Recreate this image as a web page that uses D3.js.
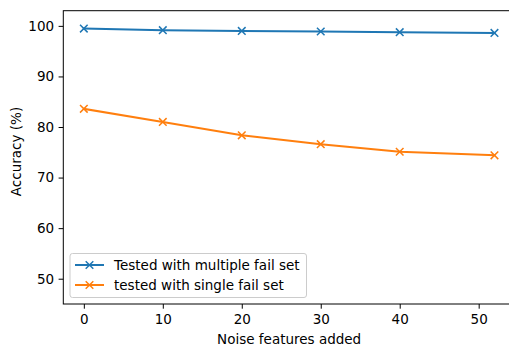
<!DOCTYPE html>
<html>
<head>
<meta charset="utf-8">
<script src="https://cdn.jsdelivr.net/npm/d3@7"></script>
<style>
  body { margin: 0; background: #fff; }
  svg text { font-family: "DejaVu Sans", sans-serif; fill: #000; }
</style>
</head>
<body>
<div id="chart"></div>
<script>
// data
const noiseFeatures = [0, 10, 20, 30, 40, 52];
const multipleFailSet = [99.47, 99.15, 99.0, 98.88, 98.75, 98.6];
const singleFailSet = [83.6, 81.0, 78.35, 76.6, 75.1, 74.4];
const xTicks = [0, 10, 20, 30, 40, 50];
const yTicks = [50, 60, 70, 80, 90, 100];
const seriesNames = ["Tested with multiple fail set", "tested with single fail set"];
const seriesColors = ["#1f77b4", "#ff7f0e"];

const W = 509, H = 347;
const margin = { top: 10.7, right: -6, bottom: 43, left: 63.3 };
const width = W - margin.left - margin.right;
const height = H - margin.top - margin.bottom;
const fs = 13.5;

const svg = d3.select('#chart').append('svg')
  .attr('width', W).attr('height', H);
const g = svg.append('g')
  .attr('transform', 'translate(' + margin.left + ',' + margin.top + ')');

const x = d3.scaleLinear().domain([-2.6, 54.6]).range([0, width]);
const y = d3.scaleLinear().domain([45, 103]).range([height, 0]);

// axes
const xAxis = d3.axisBottom(x).tickValues(xTicks).tickSize(4.7).tickPadding(5.3);
const yAxis = d3.axisLeft(y).tickValues(yTicks).tickSize(4.7).tickPadding(4.5);

const gx = g.append('g').attr('transform', 'translate(0,' + height + ')').call(xAxis);
const gy = g.append('g').call(yAxis);
[gx, gy].forEach(a => {
  a.select('.domain').remove();
  a.selectAll('.tick line').attr('stroke', '#000').attr('stroke-width', 1);
  a.selectAll('.tick text').style('font-size', fs + 'px');
});

// spines
g.append('rect').attr('x', 0).attr('y', 0).attr('width', width).attr('height', height)
  .attr('fill', 'none').attr('stroke', '#000').attr('stroke-width', 1);

// lines
const series = [multipleFailSet, singleFailSet];
const line = d3.line().x((d, i) => x(noiseFeatures[i])).y(d => y(d));
const ms = 3.8;
function cross(sel, cx, cy, color) {
  sel.append('path')
    .attr('d', 'M' + (cx - ms) + ',' + (cy - ms) + 'L' + (cx + ms) + ',' + (cy + ms) +
               'M' + (cx - ms) + ',' + (cy + ms) + 'L' + (cx + ms) + ',' + (cy - ms))
    .attr('stroke', color).attr('stroke-width', 1.5).attr('fill', 'none');
}
series.forEach((s, k) => {
  g.append('path').datum(s).attr('d', line)
    .attr('fill', 'none').attr('stroke', seriesColors[k]).attr('stroke-width', 2)
    .attr('stroke-linejoin', 'round').attr('stroke-linecap', 'square');
  s.forEach((v, i) => cross(g, x(noiseFeatures[i]), y(v), seriesColors[k]));
});

// axis labels
svg.append('text').attr('x', margin.left + x(26)).attr('y', 343.5)
  .attr('text-anchor', 'middle').style('font-size', fs + 'px').text('Noise features added');
svg.append('text').attr('transform', 'translate(20.5,151.5) rotate(-90)')
  .attr('text-anchor', 'middle').style('font-size', fs + 'px').text('Accuracy (%)');

// legend
const lg = svg.append('g');
lg.append('rect').attr('x', 70).attr('y', 253.5).attr('width', 236.5).attr('height', 44)
  .attr('rx', 2.5).attr('fill', '#fff').attr('fill-opacity', 0.8)
  .attr('stroke', '#ccc').attr('stroke-width', 1);
seriesNames.forEach((name, k) => {
  const cy = 265 + k * 20;
  lg.append('line').attr('x1', 75).attr('x2', 104).attr('y1', cy).attr('y2', cy)
    .attr('stroke', seriesColors[k]).attr('stroke-width', 2);
  cross(lg, 89.5, cy, seriesColors[k]);
  lg.append('text').attr('x', 114).attr('y', cy).attr('dy', '0.35em')
    .style('font-size', fs + 'px').text(name);
});
</script>
</body>
</html>
